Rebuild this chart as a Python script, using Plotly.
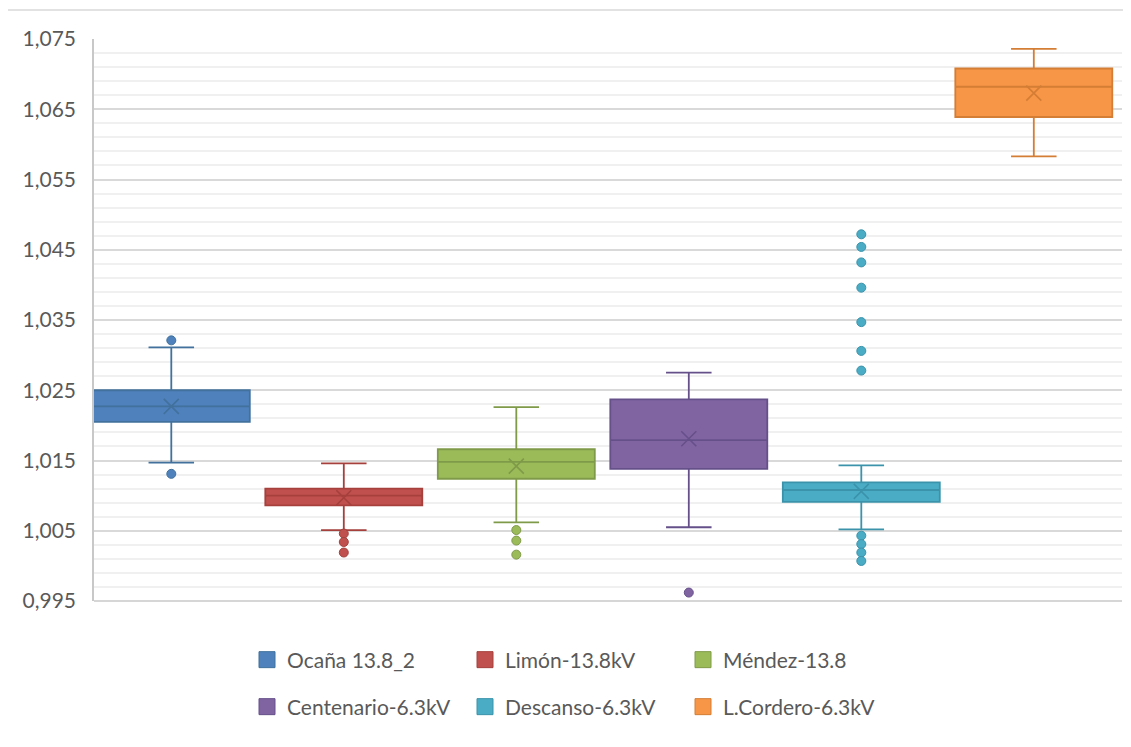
import plotly.graph_objects as go

# ---- data ----
names = ["Ocaña 13.8_2", "Limón-13.8kV", "Méndez-13.8",
         "Centenario-6.3kV", "Descanso-6.3kV", "L.Cordero-6.3kV"]
q1 = [1.0205, 1.0086, 1.0124, 1.0138, 1.0091, 1.0639]
median = [1.0227, 1.0100, 1.0148, 1.0179, 1.0108, 1.0682]
q3 = [1.0250, 1.0110, 1.0166, 1.0237, 1.0119, 1.0708]
lower_whisker = [1.0147, 1.0051, 1.0062, 1.0055, 1.0052, 1.0583]
upper_whisker = [1.0311, 1.0146, 1.0226, 1.0275, 1.0143, 1.0736]
means = [1.0227, 1.0097, 1.0142, 1.0181, 1.0106, 1.0673]
outliers = [
    [1.0321, 1.0131],
    [1.0046, 1.0034, 1.0019],
    [1.0051, 1.0036, 1.0016],
    [0.9962],
    [1.0472, 1.0454, 1.0432, 1.0396, 1.0347, 1.0306, 1.0278,
     1.0043, 1.0031, 1.0019, 1.0007],
    [],
]
fills = ["#4f81bd", "#c0504d", "#9bbb59", "#8064a2", "#4bacc6", "#f79646"]
lines = ["#41719c", "#a5403d", "#7f9a48", "#66508a", "#3a93aa", "#d37d35"]

# ---- layout geometry (page body has an 8px margin) ----
OFF = 8
W, H = 1131 - 2 * OFF, 747 - 2 * OFF
L, R, T, B = 94 - OFF, 1122 - OFF, 39 - OFF, 601 - OFF
ml, mr, mt, mb = L, W - R, T, H - B
pw, ph = R - L, B - T

def px(xp):
    return (xp - OFF - L) / pw

def py(yp):
    return (B - (yp - OFF)) / ph

fig = go.Figure()
for i, n in enumerate(names):
    fig.add_trace(go.Box(
        x=[i], q1=[q1[i]], median=[median[i]], q3=[q3[i]],
        lowerfence=[lower_whisker[i]], upperfence=[upper_whisker[i]],
        name=n, width=0.91, whiskerwidth=0.29, boxpoints=False,
        fillcolor=fills[i], line=dict(color=lines[i], width=1.8),
        showlegend=False, hoverinfo="y",
    ))
    fig.add_trace(go.Scatter(
        x=[i], y=[means[i]], mode="markers", showlegend=False,
        marker=dict(symbol="x-thin-open", size=15, color=lines[i],
                    line=dict(color=lines[i], width=1.6)),
        hoverinfo="y",
    ))
    if outliers[i]:
        fig.add_trace(go.Scatter(
            x=[i] * len(outliers[i]), y=outliers[i], mode="markers",
            showlegend=False,
            marker=dict(symbol="circle", size=9, color=fills[i],
                        line=dict(color=lines[i], width=1)),
            hoverinfo="y",
        ))
    # legend entries
    fig.add_trace(go.Scatter(
        x=[None], y=[None], mode="markers", name=n,
        legend="legend" if i < 3 else "legend2",
        marker=dict(symbol="square", size=16, color=fills[i],
                    line=dict(color=lines[i], width=1)),
    ))

legend_common = dict(
    orientation="h", xanchor="left", yanchor="middle",
    entrywidth=173, entrywidthmode="pixels",
    font=dict(family="Lato, Liberation Sans, sans-serif", size=21,
              color="#595959"),
    bgcolor="rgba(0,0,0,0)", borderwidth=0,
    itemclick=False, itemdoubleclick=False,
)

fig.update_layout(
    width=W, height=H,
    margin=dict(l=ml, r=mr, t=mt, b=mb, autoexpand=False),
    paper_bgcolor="white", plot_bgcolor="white",
    separators=",.",
    font=dict(family="Lato, Liberation Sans, sans-serif", color="#595959"),
    showlegend=True,
    legend=dict(x=px(247), y=py(660), **legend_common),
    legend2=dict(x=px(247), y=py(707), **legend_common),
    xaxis=dict(range=[(94 - 171.3) / 172.5, (1122 - 171.3) / 172.5],
               showgrid=False, zeroline=False, showticklabels=False,
               showline=False, fixedrange=True),
    yaxis=dict(range=[0.995, 1.075], tick0=0.995, dtick=0.01,
               tickformat=".3f", showgrid=True, gridcolor="#d9d9d9",
               gridwidth=1.5, zeroline=False, showline=True,
               linecolor="#c8c8c8", linewidth=1.5, mirror=False,
               ticks="", ticklabelstandoff=12,
               tickfont=dict(size=21, color="#595959"),
               minor=dict(tick0=0.995, dtick=0.002, showgrid=True,
                          gridcolor="#f0f0f0", gridwidth=1.5),
               fixedrange=True),
    shapes=[
        # bottom axis line
        dict(type="line", xref="paper", yref="paper", x0=0, x1=1, y0=0, y1=0,
             line=dict(color="#c8c8c8", width=1.5), layer="above"),
        # chart outer border (top and left)
        dict(type="line", xref="paper", yref="paper",
             x0=px(7), x1=px(1140), y0=py(10), y1=py(10),
             line=dict(color="#d9d9d9", width=1.5)),
        dict(type="line", xref="paper", yref="paper",
             x0=px(7), x1=px(7), y0=py(10), y1=py(760),
             line=dict(color="#d9d9d9", width=1.5)),
    ],
)

fig.write_html("out.html")
